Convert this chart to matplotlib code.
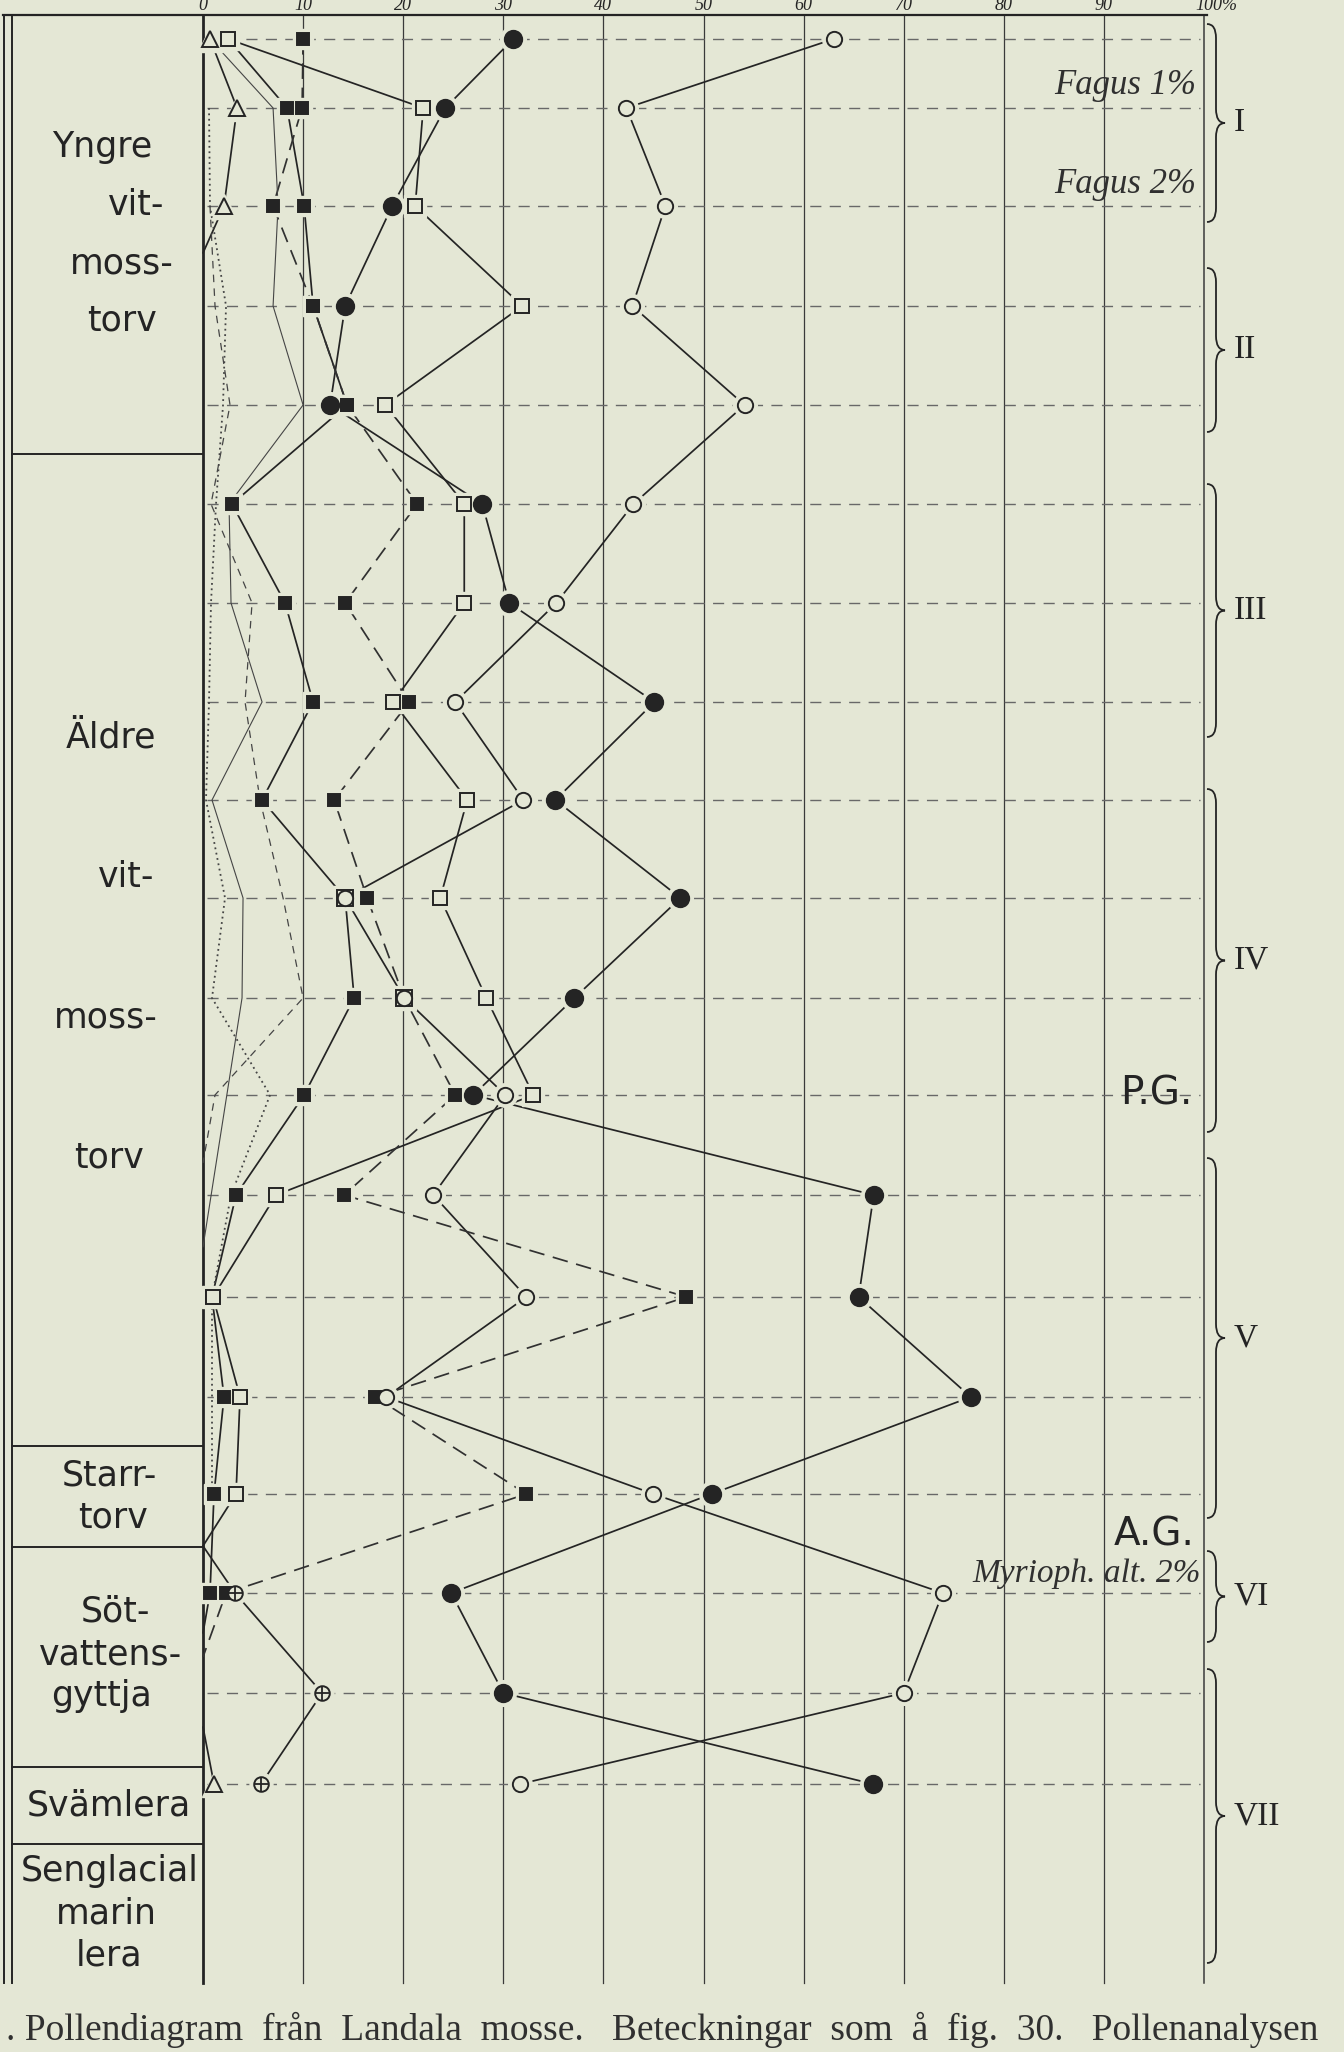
import numpy as np
import matplotlib
matplotlib.use('Agg')
from matplotlib import pyplot as plt
from matplotlib.path import Path
from matplotlib.patches import PathPatch

nan = np.nan

# sample levels (depth below top of profile, dm) and pollen percentages
depth = [0.24, 0.93, 1.91, 2.91, 3.90, 4.89, 5.88, 6.87, 7.85, 8.83,
         9.83, 10.80, 11.80, 12.82, 13.82, 14.79, 15.78, 16.78, 17.69]

pinus = [31, 24.2, 18.9, 14.2, 12.7, 27.9, 30.6, 45.1, 35.2, 47.7,
         37.1, 27, 67, 65.5, 76.7, 50.8, 24.8, 30, 66.9]
betula = [63, 42.3, 46.2, 42.9, 54.1, 43, 35.3, 25.2, 32, 14.2,
          20.1, 30.2, 23, 32.3, 18.3, 45, 73.9, 70, 31.7]
qm = [2.5, 22, 21.2, 31.9, 18.2, 26.1, 26.1, 19, 26.4, 23.7,
      28.3, 33, 7.3, 1.0, 3.7, 3.3, nan, nan, nan]
alnus = [2.5, 8.4, 10.1, 11, 14.4, 2.9, 8.2, 11, 5.9, 14.2,
         15.1, 10.1, 3.3, 0.9, 2.1, 1.1, 0.7, nan, nan]
corylus = [10, 9.9, 7.0, 11, 14.4, 21.4, 14.2, 20.6, 13.1, 16.4,
           20.1, 25.2, 14.1, 48.3, 17.2, 32.3, 2.3, nan, nan]
salix = [nan] * 16 + [3.2, 11.9, 5.8]
fagus_tri = [0.7, 3.4, 2.1] + [nan] * 15 + [1.1]
ulmus = [0.7, 7.0, 7.5, 7.0, 10.0, 2.6, 2.8, 5.9, 0.9, 4.0,
         3.9] + [nan] * 8
tilia = [nan, 0.6, 0.7, 2.3, 2.0, 1.3, 0.8, 0.6, 0.3, 2.2,
         0.9, 6.7, 2.8, 0.9, 0.9, 0.9, nan, nan, nan]
quercus = [nan, nan, 0.7, 1.2, 2.7, 0.8, 4.9, 4.2, 5.7, 8.0,
           10.0, 1.2] + [nan] * 7

# depths where a curve runs out to 0 %
qm_end = [15.31]
alnus_end = [16.18]
corylus_end = [16.42]
salix_end = [15.31]
tri_end = [2.38, 17.12]
ulmus_end = [12.32]
quercus_end = [11.48]

pct_ticks = [0, 10, 20, 30, 40, 50, 60, 70, 80, 90, 100]

zone_names = ['I', 'II', 'III', 'IV', 'V', 'VI', 'VII']
zone_top = [0.09, 2.53, 4.69, 7.74, 11.43, 15.36, 16.54]
zone_bot = [2.07, 4.17, 7.22, 11.17, 15.03, 16.27, 19.48]

strata_bounds = [4.39, 14.31, 15.32, 17.52, 18.29]
strata_text = [('Yngre', 102, 147), ('vit-', 136, 205), ('moss-', 122, 264), ('torv', 122, 321),
               ('Äldre', 111, 737), ('vit-', 126, 877), ('moss-', 106, 1017), ('torv', 109, 1157),
               ('Starr-', 109, 1476), ('torv', 113, 1518),
               ('Söt-', 115, 1611), ('vattens-', 111, 1655), ('gyttja', 101, 1696),
               ('Svämlera', 109, 1806),
               ('Senglacial', 110, 1871), ('marin', 106, 1913), ('lera', 109, 1955)]

paper = '#e4e7d5'
ink = '#242424'

# pixel -> data helpers (0 % at x=203 px, 10 px per %, 100 px per dm)
def fx(p):
    return (p - 203.0) / 10.01

def fy(p):
    return (p - 15.0) / 100.0

fig = plt.figure(figsize=(13.44, 20.52), dpi=100, facecolor=paper)
ax = fig.add_axes([0, 0, 1, 1])
ax.set_facecolor(paper)
ax.set_xlim(fx(0), fx(1344))
ax.set_ylim(fy(2052), fy(0))
ax.axis('off')

bottom = fy(1983)

# frame and grid
for t in pct_ticks[1:-1]:
    ax.plot([t, t], [0, bottom], color='#3a3a3a', lw=0.9, zorder=1)
ax.plot([0, 0], [0, bottom], color=ink, lw=2.0, zorder=1)
ax.plot([100, 100], [0, bottom], color='#3a3a3a', lw=1.1, zorder=1)
ax.plot([fx(3), 100.3], [0, 0], color=ink, lw=1.6, zorder=1)
ax.plot([fx(4), fx(4)], [0, bottom], color=ink, lw=1.4, zorder=1)
ax.plot([fx(12), fx(12)], [0, bottom], color=ink, lw=1.4, zorder=1)
for b in strata_bounds:
    ax.plot([fx(12), 0], [b, b], color=ink, lw=1.4, zorder=1)

for t in pct_ticks:
    lab = '100%' if t == 100 else str(t)
    ax.text(t + (1.2 if t == 100 else 0), fy(14), lab, ha='center', va='bottom',
            family='Liberation Serif', style='italic', fontsize=13, color=ink)

# sample levels
for d in depth:
    ax.plot([0.4, 99.6], [d, d], color='#686868', lw=1.0, dashes=(8, 6), zorder=1.5)

# stratigraphy column
for txt, x, y in strata_text:
    ax.text(fx(x), fy(y), txt, ha='center', va='center', family='DejaVu Sans',
            fontsize=25, color=ink)


def curve(vals, ends=()):
    pts = [(d, v) for d, v in zip(depth, vals) if not np.isnan(v)]
    pts += [(e, 0.0) for e in ends]
    pts.sort()
    ys, xs = [], []
    for i, (d, v) in enumerate(pts):
        if i and v == 0 and pts[i - 1][1] == 0:
            ys.append(nan)
            xs.append(nan)
        ys.append(d)
        xs.append(v)
    return xs, ys


line_specs = [
    (pinus, (), dict(color=ink, lw=1.25)),
    (betula, (), dict(color=ink, lw=1.25)),
    (qm, qm_end, dict(color=ink, lw=1.25)),
    (alnus, alnus_end, dict(color=ink, lw=1.25)),
    (corylus, corylus_end, dict(color='#313131', lw=1.25, dashes=(9, 5))),
    (salix, salix_end, dict(color=ink, lw=1.25)),
    (fagus_tri, tri_end, dict(color=ink, lw=1.25)),
    (ulmus, ulmus_end, dict(color='#454545', lw=0.8)),
    (tilia, (), dict(color='#454545', lw=1.3, dashes=(1, 2))),
    (quercus, quercus_end, dict(color='#454545', lw=0.9, dashes=(6, 5))),
]
for vals, ends, kw in line_specs:
    xs, ys = curve(vals, ends)
    ax.plot(xs, ys, zorder=2, solid_capstyle='round', **kw)


def pts_of(vals):
    d = [a for a, v in zip(depth, vals) if not np.isnan(v)]
    v = [v for v in vals if not np.isnan(v)]
    return v, d


# square markers turn open where they coincide with a Betula point
def split_sq(vals):
    full, hollow = [], []
    for v, b in zip(vals, betula):
        if not np.isnan(v) and abs(v - b) < 0.3:
            hollow.append(v)
            full.append(nan)
        else:
            full.append(v)
            hollow.append(nan)
    return full, hollow


aln_f, aln_o = split_sq(alnus)
cor_f, cor_o = split_sq(corylus)

markers = [
    (aln_f, 's', 9, ink, ink),
    (cor_f, 's', 9, ink, ink),
    (aln_o, 's', 11, paper, ink),
    (cor_o, 's', 11, paper, ink),
    (qm, 's', 10.5, paper, ink),
    (fagus_tri, '^', 12, paper, ink),
    (salix, 'o', 10.5, paper, ink),
    (pinus, 'o', 12.5, ink, ink),
    (betula, 'o', 11, paper, ink),
]
for vals, m, ms, fc, ec in markers:
    v, d = pts_of(vals)
    ax.plot(v, d, ls='none', marker=m, ms=ms + 6, mfc=paper, mec=paper, zorder=3)
for vals, m, ms, fc, ec in markers:
    v, d = pts_of(vals)
    ax.plot(v, d, ls='none', marker=m, ms=ms, mfc=fc, mec=ec, mew=1.4, zorder=4)
v, d = pts_of(salix)
ax.plot(v, d, ls='none', marker='+', ms=9.5, mec=ink, mew=1.3, zorder=5)

# notes inside the diagram
ax.text(fx(1196), fy(86), 'Fagus 1%', ha='right', va='center', family='Liberation Serif',
        style='italic', fontsize=25, color='#303030')
ax.text(fx(1196), fy(185), 'Fagus 2%', ha='right', va='center', family='Liberation Serif',
        style='italic', fontsize=25, color='#303030')
ax.text(fx(1193), fy(1094), 'P.G.', ha='right', va='center', family='DejaVu Sans',
        fontsize=28, color=ink, zorder=6)
ax.text(fx(1195), fy(1534), 'A.G.', ha='right', va='center', family='DejaVu Sans',
        fontsize=28, color=ink)
ax.text(fx(1201), fy(1574), 'Myrioph. alt. 2%', ha='right', va='center',
        family='Liberation Serif', style='italic', fontsize=24, color='#303030')


# curly braces for the pollen zones
def brace(y0, y1, xb=fx(1216), w=0.9, r=0.14):
    ym = (y0 + y1) / 2
    verts = [(xb - w, y0), (xb, y0), (xb, y0 + r), (xb, ym - r), (xb, ym), (xb + w, ym),
             (xb, ym), (xb, ym + r), (xb, y1 - r), (xb, y1), (xb - w, y1)]
    codes = [Path.MOVETO, Path.CURVE3, Path.CURVE3, Path.LINETO, Path.CURVE3, Path.CURVE3,
             Path.CURVE3, Path.CURVE3, Path.LINETO, Path.CURVE3, Path.CURVE3]
    ax.add_patch(PathPatch(Path(verts, codes), fill=False, ec=ink, lw=1.3))


for name, t, b in zip(zone_names, zone_top, zone_bot):
    brace(t, b)
    ax.text(fx(1234), (t + b) / 2, name, ha='left', va='center', family='Liberation Serif',
            fontsize=24, color=ink)

ax.text(fx(6), fy(2040), '. Pollendiagram  från  Landala  mosse.   Beteckningar  som  å  fig.  30.   Pollenanalysen',
        ha='left', va='baseline', family='Liberation Serif', fontsize=27, color='#303030')

fig.savefig('out.png', dpi=100, facecolor=paper)
